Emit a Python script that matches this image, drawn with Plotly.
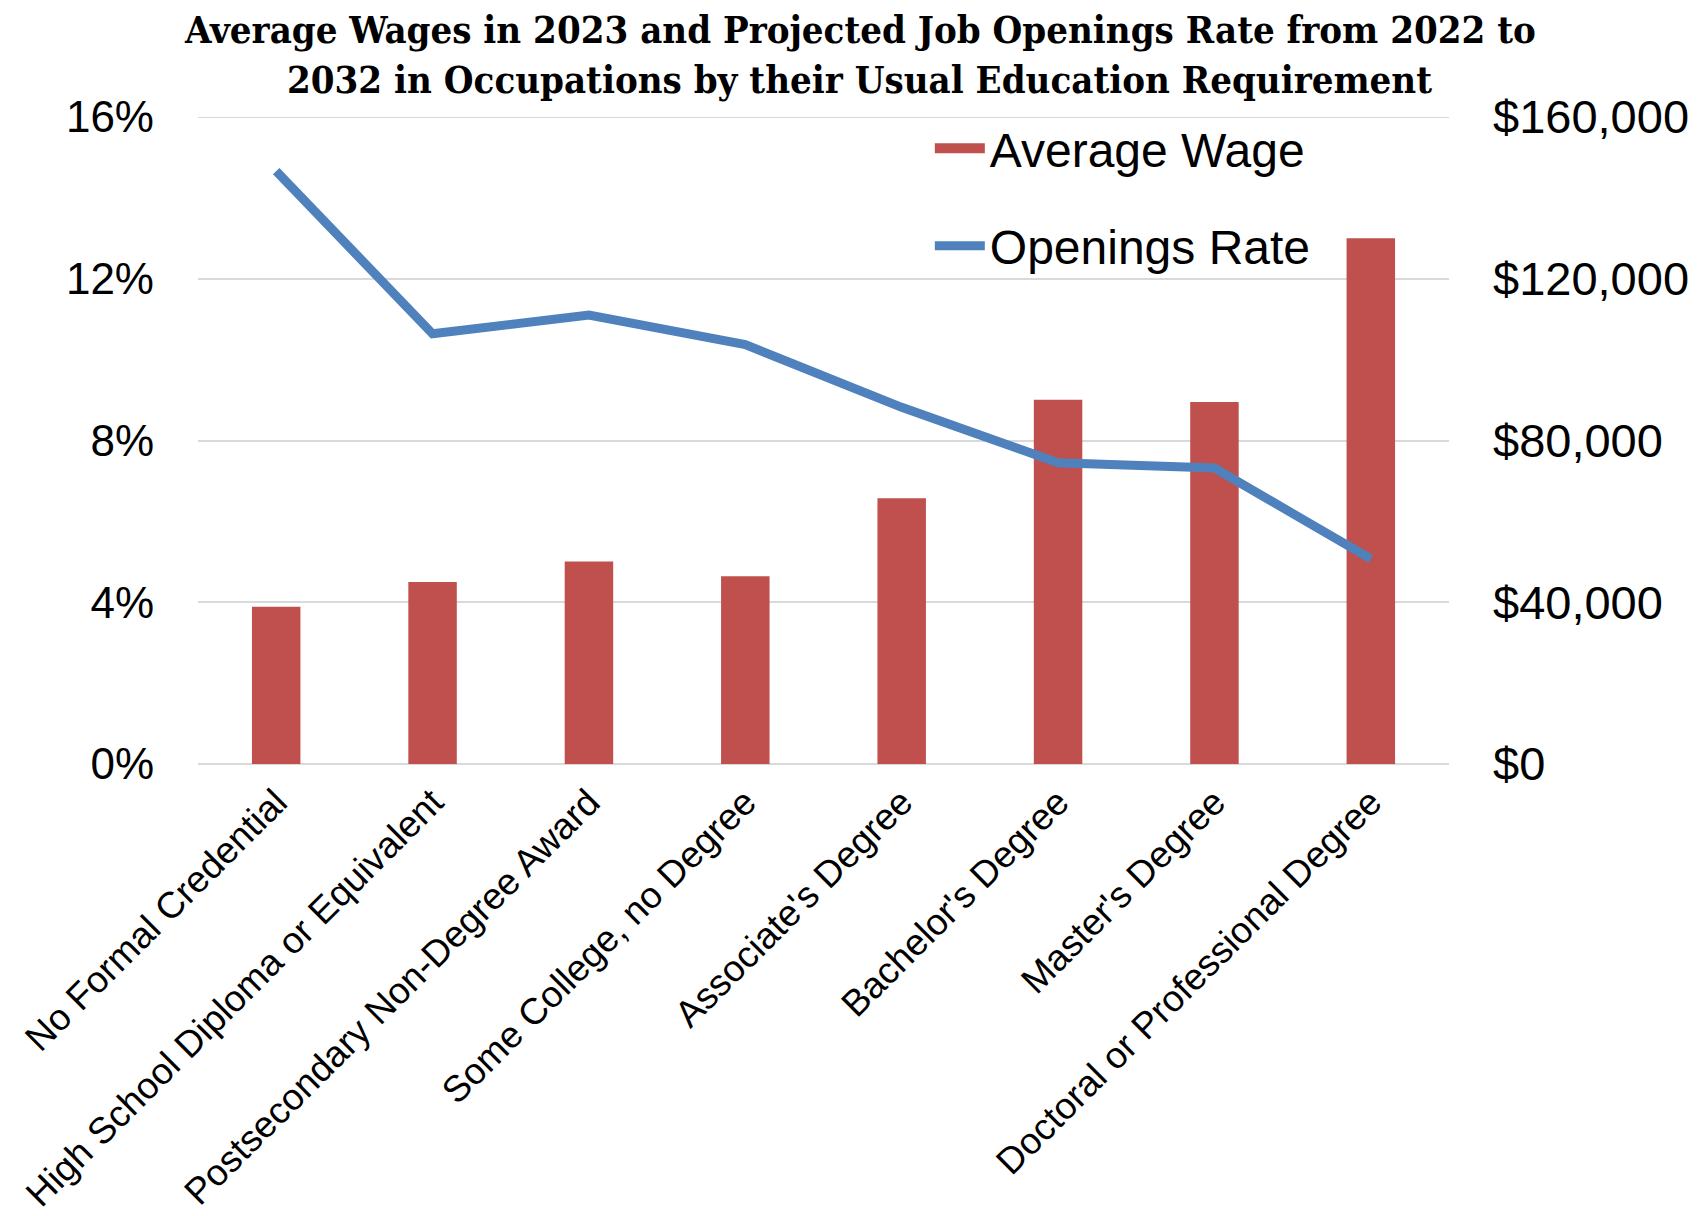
import plotly.graph_objects as go

categories = [
    "No Formal Credential",
    "High School Diploma or Equivalent",
    "Postsecondary Non-Degree Award",
    "Some College, no Degree",
    "Associate's Degree",
    "Bachelor's Degree",
    "Master's Degree",
    "Doctoral or Professional Degree",
]
average_wage = [38900, 45000, 50100, 46400, 65700, 90100, 89500, 130000]
openings_rate = [0.1466, 0.1064, 0.1110, 0.1037, 0.0882, 0.0745, 0.0732, 0.0507]

wage_ticks = [0, 40000, 80000, 120000, 160000]
rate_ticks = [0, 0.04, 0.08, 0.12, 0.16]
title_lines = [
    "Average Wages in 2023 and Projected Job Openings Rate from 2022 to",
    "2032 in Occupations by their Usual Education Requirement",
]

BAR_RED = "#C0504D"
LINE_BLUE = "#4F81BD"
GRID = "#D9D9D9"
SANS = "Liberation Sans, Arial, sans-serif"
SERIF = "DejaVu Serif Condensed, DejaVu Serif, serif"

fig = go.Figure()
fig.add_trace(
    go.Bar(
        x=categories,
        y=average_wage,
        name="Average Wage",
        marker=dict(color=BAR_RED, line=dict(width=0)),
        yaxis="y",
        legendgroup="wage",
        showlegend=False,
    )
)
# legend-only stand-in so the wage key is a wide block like the original
fig.add_trace(
    go.Scatter(
        x=[None],
        y=[None],
        name="Average Wage",
        mode="lines",
        line=dict(color=BAR_RED, width=24),
        yaxis="y",
        legendgroup="wage",
        hoverinfo="skip",
    )
)
fig.add_trace(
    go.Scatter(
        x=categories,
        y=openings_rate,
        name="Openings Rate",
        mode="lines",
        line=dict(color=LINE_BLUE, width=9),
        yaxis="y2",
        legendgroup="rate",
    )
)

for text, ypos in zip(title_lines, [1.1345, 1.0587]):
    fig.add_annotation(
        text=f"<b>{text}</b>",
        xref="paper",
        yref="paper",
        x=0.529,
        y=ypos,
        xanchor="center",
        yanchor="middle",
        showarrow=False,
        font=dict(family=SERIF, size=38, color="black"),
    )

# top gridline (plotly drops the one sitting on the plot edge)
fig.add_shape(
    type="line",
    xref="paper",
    yref="y",
    x0=0,
    x1=1,
    y0=wage_ticks[-1],
    y1=wage_ticks[-1],
    line=dict(color=GRID, width=2),
    layer="below",
)

fig.update_layout(
    width=1690,
    height=1208,
    paper_bgcolor="white",
    plot_bgcolor="white",
    margin=dict(l=190, r=249, t=109, b=452, autoexpand=False),
    font=dict(family=SANS, size=44, color="black"),
    bargap=0.69,
    showlegend=True,
    legend=dict(
        x=0.585,
        y=1.01,
        xanchor="left",
        yanchor="top",
        bgcolor="rgba(0,0,0,0)",
        font=dict(family=SANS, size=48),
        traceorder="grouped",
        tracegroupgap=32,
        itemwidth=50,
    ),
    xaxis=dict(
        tickangle=-45,
        tickfont=dict(size=37),
        showline=False,
        ticks="",
        ticklabelstandoff=8,
        automargin=False,
    ),
    yaxis=dict(
        side="right",
        range=[0, wage_ticks[-1]],
        tickvals=wage_ticks,
        tickformat="$,.0f",
        tickfont=dict(size=47),
        showgrid=True,
        gridcolor=GRID,
        gridwidth=2,
        zeroline=True,
        zerolinecolor=GRID,
        zerolinewidth=2,
        ticks="",
        ticklabelstandoff=43,
        automargin=False,
    ),
    yaxis2=dict(
        side="left",
        overlaying="y",
        range=[0, rate_ticks[-1]],
        tickvals=rate_ticks,
        tickformat=".0%",
        showgrid=False,
        zeroline=False,
        ticks="",
        ticklabelstandoff=43,
        automargin=False,
    ),
)

fig.write_html("out.html")
